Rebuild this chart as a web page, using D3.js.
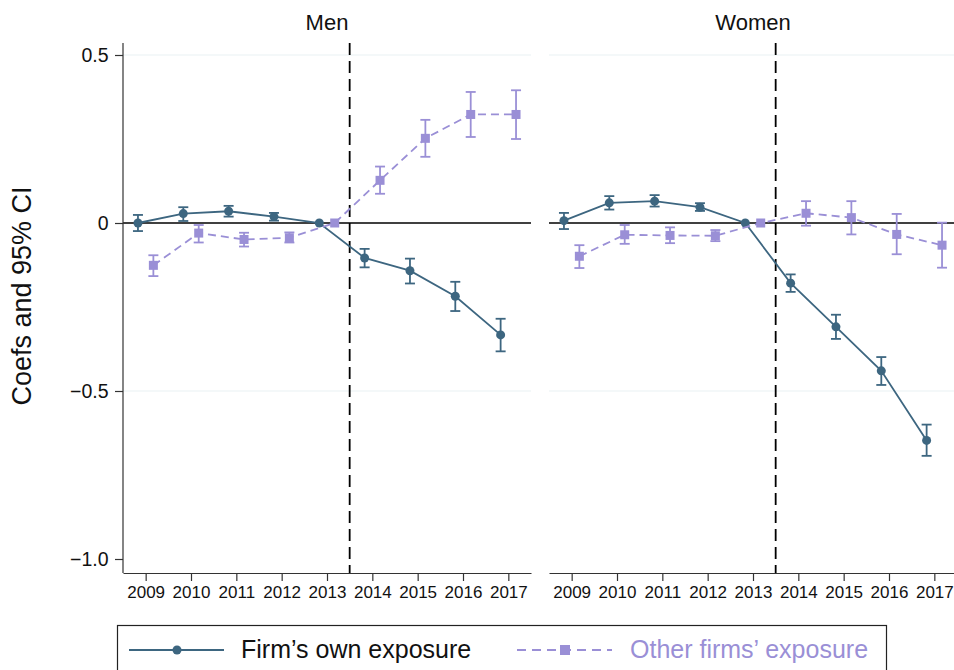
<!DOCTYPE html>
<html>
<head>
<meta charset="utf-8">
<script src="https://cdn.jsdelivr.net/npm/d3@7"></script>
<style>
  body { margin: 0; background: #fff; }
  text { font-family: "Liberation Sans", Arial, sans-serif; }
</style>
</head>
<body>
<div id="chart"></div>
<script>
// years on the x axis
var years = [2009, 2010, 2011, 2012, 2013, 2014, 2015, 2016, 2017];
var panels = ["Men", "Women"];
var yTicks = [0.5, 0, -0.5, -1.0];

// men: firm's own exposure
var menOwn   = [0.000, 0.028, 0.035, 0.019, 0.000, -0.104, -0.142, -0.218, -0.333];
var menOwnLo = [-0.024, 0.006, 0.019, 0.007, 0.000, -0.132, -0.180, -0.262, -0.382];
var menOwnHi = [0.024, 0.047, 0.051, 0.030, 0.000, -0.077, -0.106, -0.175, -0.285];

// men: other firms' exposure
var menOth   = [-0.126, -0.030, -0.049, -0.044, 0.000, 0.127, 0.252, 0.323, 0.323];
var menOthLo = [-0.158, -0.058, -0.070, -0.058, 0.000, 0.087, 0.197, 0.256, 0.250];
var menOthHi = [-0.096, -0.006, -0.029, -0.028, 0.000, 0.168, 0.307, 0.390, 0.395];

// women: firm's own exposure
var womOwn   = [0.007, 0.060, 0.065, 0.047, 0.000, -0.179, -0.309, -0.440, -0.647];
var womOwnLo = [-0.018, 0.040, 0.049, 0.036, 0.000, -0.205, -0.345, -0.482, -0.693];
var womOwnHi = [0.030, 0.080, 0.083, 0.059, 0.000, -0.153, -0.273, -0.399, -0.600];

// women: other firms' exposure
var womOth   = [-0.099, -0.035, -0.037, -0.038, 0.000, 0.029, 0.016, -0.034, -0.066];
var womOthLo = [-0.134, -0.062, -0.060, -0.054, 0.000, -0.008, -0.034, -0.093, -0.133];
var womOthHi = [-0.066, -0.006, -0.013, -0.021, 0.000, 0.065, 0.065, 0.027, 0.001];

var ownColor = "#3d6680", othColor = "#9a8fd6";

var width = 954, height = 670;
var svg = d3.select("#chart").append("svg")
  .attr("width", width)
  .attr("height", height);

// shared y scale
var y = d3.scaleLinear().domain([-1.0, 0.5]).range([559, 55]);
var plotTop = 43, plotBottom = 573;

// build series table for each panel
function series(own, ownLo, ownHi, oth, othLo, othHi) {
  return [
    {name: "own", color: ownColor, off: -0.17, dash: null,
     pts: years.map(function(yr, i) { return {yr: yr, v: own[i], lo: ownLo[i], hi: ownHi[i]}; })},
    {name: "oth", color: othColor, off: 0.17, dash: "8,5",
     pts: years.map(function(yr, i) { return {yr: yr, v: oth[i], lo: othLo[i], hi: othHi[i]}; })}
  ];
}
var panelData = [
  series(menOwn, menOwnLo, menOwnHi, menOth, menOthLo, menOthHi),
  series(womOwn, womOwnLo, womOwnHi, womOth, womOthLo, womOthHi)
];
var ranges = [[123, 531], [549, 957]];

panels.forEach(function(title, p) {
  var x = d3.scaleLinear().domain([2008.5, 2017.5]).range(ranges[p]);
  var g = svg.append("g");

  // light gridlines
  g.selectAll(".grid")
    .data([0.5, -0.5])
  .enter().append("line")
    .attr("x1", ranges[p][0]).attr("x2", Math.min(ranges[p][1], width))
    .attr("y1", function(d) { return y(d); })
    .attr("y2", function(d) { return y(d); })
    .attr("stroke", "#eaf2f3").attr("stroke-width", 1.2);

  // zero line
  g.append("line")
    .attr("x1", ranges[p][0]).attr("x2", ranges[p][1])
    .attr("y1", y(0)).attr("y2", y(0))
    .attr("stroke", "#000").attr("stroke-width", 1.6);

  // vertical dashed line at treatment
  g.append("line")
    .attr("x1", x(2013.5)).attr("x2", x(2013.5))
    .attr("y1", plotTop).attr("y2", plotBottom)
    .attr("stroke", "#000").attr("stroke-width", 1.8)
    .attr("stroke-dasharray", "12,6");

  // x axis
  var xAxis = d3.axisBottom(x).tickValues(years).tickFormat(d3.format("d")).tickSize(8).tickSizeOuter(0);
  var xa = g.append("g")
    .attr("transform", "translate(0," + plotBottom + ")")
    .call(xAxis);
  xa.select(".domain").attr("stroke", "#333").attr("stroke-width", 1.2);
  xa.selectAll(".tick line").attr("stroke", "#333").attr("stroke-width", 1.2);
  xa.selectAll(".tick text").attr("font-size", 17).attr("fill", "#111")
    .attr("y", 25).attr("dy", 0)
    .attr("font-family", "'Liberation Sans', Arial, sans-serif");

  // y axis only on the left panel
  if (p === 0) {
    var yAxis = d3.axisLeft(y).tickValues(yTicks)
      .tickFormat(function(d) { return d === 0 ? "0" : d3.format(".1f")(d).replace("-", "\u2212"); })
      .tickSize(8).tickSizeOuter(0);
    var ya = g.append("g")
      .attr("transform", "translate(" + ranges[0][0] + ",0)")
      .call(yAxis);
    ya.select(".domain").attr("d", "M0," + plotTop + "V" + plotBottom).attr("stroke", "#333").attr("stroke-width", 1.2);
    ya.selectAll(".tick line").attr("stroke", "#333").attr("stroke-width", 1.2);
    ya.selectAll(".tick text").attr("font-size", 19.5).attr("fill", "#111").attr("x", -14.5)
      .attr("font-family", "'Liberation Sans', Arial, sans-serif");
  }

  // panel title
  g.append("text")
    .attr("x", (ranges[p][0] + ranges[p][1]) / 2)
    .attr("y", 30)
    .attr("text-anchor", "middle")
    .attr("font-size", 22)
    .attr("fill", "#111")
    .text(title);

  panelData[p].forEach(function(s) {
    var px = function(d) { return x(d.yr + s.off); };

    // connecting line
    g.append("path")
      .datum(s.pts)
      .attr("fill", "none")
      .attr("stroke", s.color)
      .attr("stroke-width", 1.8)
      .attr("stroke-dasharray", s.dash)
      .attr("d", d3.line().x(px).y(function(d) { return y(d.v); }));

    // error bars
    var ci = s.pts.filter(function(d) { return d.hi !== d.lo; });
    var eg = g.selectAll(".ci-" + s.name)
      .data(ci)
    .enter().append("g")
      .attr("stroke", s.color).attr("stroke-width", 1.8);
    eg.append("line")
      .attr("x1", px).attr("x2", px)
      .attr("y1", function(d) { return y(d.hi); })
      .attr("y2", function(d) { return y(d.lo); });
    eg.append("line")
      .attr("x1", function(d) { return px(d) - 5; }).attr("x2", function(d) { return px(d) + 5; })
      .attr("y1", function(d) { return y(d.hi); }).attr("y2", function(d) { return y(d.hi); });
    eg.append("line")
      .attr("x1", function(d) { return px(d) - 5; }).attr("x2", function(d) { return px(d) + 5; })
      .attr("y1", function(d) { return y(d.lo); }).attr("y2", function(d) { return y(d.lo); });

    // markers
    if (s.name === "own") {
      g.selectAll(".pt-own")
        .data(s.pts)
      .enter().append("circle")
        .attr("cx", px)
        .attr("cy", function(d) { return y(d.v); })
        .attr("r", 4.5)
        .attr("fill", s.color);
    } else {
      g.selectAll(".pt-oth")
        .data(s.pts)
      .enter().append("rect")
        .attr("x", function(d) { return px(d) - 4.5; })
        .attr("y", function(d) { return y(d.v) - 4.5; })
        .attr("width", 9).attr("height", 9)
        .attr("fill", s.color);
    }
  });
});

// y axis label
svg.append("text")
  .attr("transform", "translate(31,296) rotate(-90)")
  .attr("text-anchor", "middle")
  .attr("font-size", 27)
  .attr("fill", "#111")
  .text("Coefs and 95% CI");

// legend
var lg = svg.append("g");
lg.append("rect")
  .attr("x", 117.5).attr("y", 625.5)
  .attr("width", 769).attr("height", 60)
  .attr("fill", "#fff").attr("stroke", "#222").attr("stroke-width", 1.2);

lg.append("line")
  .attr("x1", 129).attr("x2", 224).attr("y1", 650).attr("y2", 650)
  .attr("stroke", ownColor).attr("stroke-width", 1.8);
lg.append("circle").attr("cx", 177).attr("cy", 650).attr("r", 4.5).attr("fill", ownColor);
lg.append("text")
  .attr("x", 241).attr("y", 658)
  .attr("font-size", 25).attr("fill", "#111")
  .text("Firm\u2019s own exposure");

lg.append("line")
  .attr("x1", 517).attr("x2", 612).attr("y1", 650).attr("y2", 650)
  .attr("stroke", othColor).attr("stroke-width", 1.8)
  .attr("stroke-dasharray", "9,6");
lg.append("rect").attr("x", 560).attr("y", 645).attr("width", 10).attr("height", 10).attr("fill", othColor);
lg.append("text")
  .attr("x", 630).attr("y", 658)
  .attr("font-size", 25).attr("fill", othColor)
  .text("Other firms\u2019 exposure");
</script>
</body>
</html>
